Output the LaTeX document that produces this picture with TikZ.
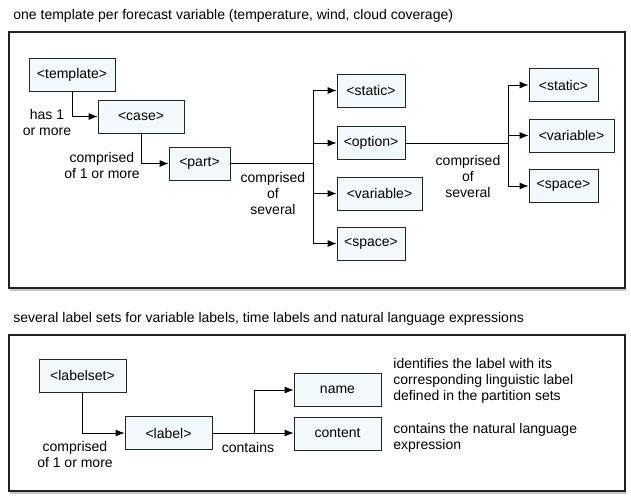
\documentclass[tikz,border=0pt]{standalone}
\usepackage{fontspec}
\setmainfont{Liberation Sans}
\usepackage{tikz}
\usetikzlibrary{shadows}
\usetikzlibrary{arrows.meta}
\definecolor{boxblue}{HTML}{F2F9FD}
\definecolor{framegray}{HTML}{222222}

\tikzset{
  elem/.style={draw=black!85, fill=boxblue, minimum height=33pt, inner sep=0pt, font=\fontsize{14}{16}\selectfont},
  rel/.style={align=center, font=\fontsize{14}{16}\selectfont},
  note/.style={align=left, anchor=west, inner sep=0pt, font=\fontsize{14}{16}\selectfont},
  frame/.style={draw=framegray, line width=1.1pt, fill=white, drop shadow={shadow xshift=1pt, shadow yshift=-3pt, fill=black!45}},
}

\begin{document}
\begin{tikzpicture}[x=1pt,y=-1pt,>={Latex[length=9pt,width=7pt]},line width=0.8pt]
 \useasboundingbox[fill=white] (0,0) rectangle (631,495);

 \node[anchor=base west, inner sep=0pt, font=\fontsize{14}{16}\selectfont] (title1) at (13,20) {one template per forecast variable (temperature, wind, cloud coverage)};
 \path[frame] (9,32) rectangle (625,288);

 \node[elem, minimum width=86pt] (template) at (72,74.5) {<template>};
 \node[elem, minimum width=86pt] (case) at (141,116.5) {<case>};
 \node[elem, minimum width=61pt] (part) at (199.5,163.5) {<part>};

 \node[elem, minimum width=68pt] (static) at (371,90.5) {<static>};
 \node[elem, minimum width=68pt] (option) at (371,143) {<option>};
 \node[elem, minimum width=85pt] (variable) at (379.5,193.5) {<variable>};
 \node[elem, minimum width=68pt] (space) at (371,243.5) {<space>};

 \node[elem, minimum width=69pt] (ostatic) at (563.5,85) {<static>};
 \node[elem, minimum width=85pt] (ovariable) at (571.5,135.5) {<variable>};
 \node[elem, minimum width=69pt] (ospace) at (563.5,186) {<space>};

 \draw[->] (template.south) |- (case.west);
 \draw[->] (case.south) |- (part.west);
 \node[rel] (has) at (47,122.5) {has 1\\or more};
 \node[rel] (compr1) at (102,165.5) {comprised\\of 1 or more};

 \coordinate (forkA) at (313,163.5);
 \draw (part.east) -- (forkA);
 \draw[->] (forkA) |- (static.west);
 \draw[->] (forkA) |- (option.west);
 \draw[->] (forkA) |- (variable.west);
 \draw[->] (forkA) |- (space.west);
 \node[rel] (compr2) at (273,193.5) {comprised\\of\\several};

 \coordinate (forkB) at (508,143);
 \draw (option.east) -- (forkB);
 \draw[->] (forkB) |- (ostatic.west);
 \draw[->] (forkB) |- (ovariable.west);
 \draw[->] (forkB) |- (ospace.west);
 \node[rel] (compr3) at (468,176) {comprised\\of\\several};

 \node[anchor=base west, inner sep=0pt, font=\fontsize{14}{16}\selectfont] (title2) at (13,322.5) {several label sets for variable labels, time labels and natural language expressions};
 \path[frame] (9,335) rectangle (625,491);

 \node[elem, minimum width=87pt] (labelset) at (82.5,375.5) {<labelset>};
 \node[elem, minimum width=87pt] (label) at (168.5,433) {<label>};
 \node[elem, minimum width=87pt] (name) at (337.5,390) {name};
 \node[elem, minimum width=87pt] (content) at (337.5,433.5) {content};

 \draw[->] (labelset.south) |- (label.west);
 \node[rel] (compr4) at (75,454) {comprised\\of 1 or more};

 \coordinate (forkC) at (254,433);
 \draw[->] (label.east) -- (content.west |- label);
 \draw[->] (forkC) |- (name.west);
 \node[rel] (contains) at (248,447) {contains};

 \node[note] (namenote) at (393,381) {identifies the label with its\\corresponding linguistic label\\defined in the partition sets};
 \node[note] (contentnote) at (393,437.5) {contains the natural language\\expression};
\end{tikzpicture}
\end{document}
